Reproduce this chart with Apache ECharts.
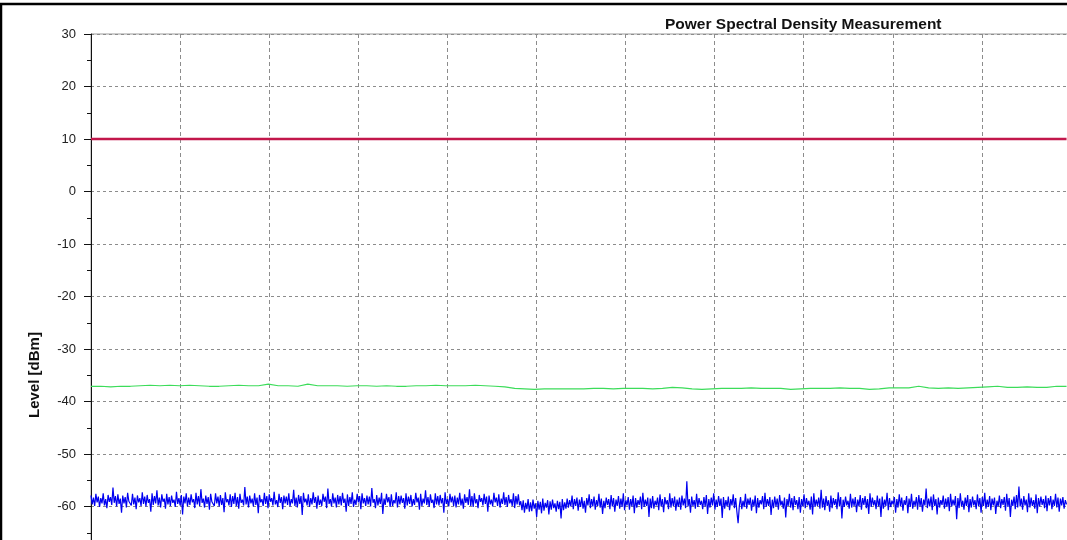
<!DOCTYPE html>
<html lang="en">
  <head>
    <meta charset="utf-8">
    <title>Power Spectral Density Measurement</title>
    <style>
      html, body { margin: 0; padding: 0; background: #fff; overflow: hidden; }
      /* the plot runs past the window on the right and bottom, like the original */
      #chart { width: 1071px; height: 559px; }
    </style>
  </head>
  <body>
    <div id="chart"></div>
    <script src="https://cdn.jsdelivr.net/npm/echarts@6/dist/echarts.min.js"></script>
    <script>
      // x span of the traces in grid units (one dashed division = 1)
      var X_SPAN = 10.95;
      var yTicks = [30, 20, 10, 0, -10, -20, -30, -40, -50, -60];

      // limit line
      var redLevel = [10, 10];

      // averaged trace
      var greenLevel = [
        -37.1, -37.1, -37.2, -37.1, -37.1, -37.0, -36.9, -37.0, -36.9, -37.0,
        -36.9, -37.0, -37.1, -37.1, -37.0, -36.9, -37.0, -37.0, -36.7, -37.0,
        -37.0, -37.1, -36.7, -37.0, -37.0, -37.0, -37.1, -37.0, -37.0, -37.1,
        -37.0, -37.1, -37.1, -37.0, -37.0, -36.9, -37.0, -37.0, -37.0, -36.9,
        -37.0, -37.1, -37.2, -37.5, -37.6, -37.7, -37.6, -37.6, -37.6, -37.6,
        -37.6, -37.5, -37.5, -37.6, -37.5, -37.5, -37.5, -37.6, -37.5, -37.3,
        -37.4, -37.6, -37.7, -37.6, -37.5, -37.5, -37.5, -37.4, -37.5, -37.5,
        -37.5, -37.7, -37.6, -37.5, -37.5, -37.5, -37.4, -37.5, -37.5, -37.7,
        -37.6, -37.4, -37.4, -37.4, -37.1, -37.4, -37.5, -37.4, -37.5, -37.4,
        -37.3, -37.2, -37.1, -37.3, -37.3, -37.2, -37.3, -37.3, -37.1, -37.1
      ];

      // raw trace (noise floor)
      var blueLevel = [
        -57.9,-59.6,-58.3,-59.9,-57.6,-59.2,-58.1,-60.1,-58.4,-59.4,-57.5,-59.8,-58.6,-60.3,-57.8,-59.1,-58.2,-59.7,-56.4,-59.3,
        -58.0,-60.0,-57.7,-59.5,-58.5,-61.2,-57.9,-59.4,-58.2,-60.2,-57.4,-59.0,-58.7,-59.8,-57.6,-59.6,-58.3,-60.5,-57.9,-59.2,
        -58.4,-59.9,-57.3,-59.5,-58.1,-60.0,-57.8,-59.3,-58.6,-61.0,-57.5,-59.7,-58.0,-59.4,-56.9,-59.8,-58.3,-60.2,-57.7,-59.1,
        -58.5,-60.4,-57.6,-59.6,-58.2,-59.9,-57.9,-59.3,-58.7,-60.1,-57.2,-59.5,-58.4,-59.8,-57.8,-61.5,-58.1,-59.4,-57.5,-60.0,
        -58.3,-59.7,-57.7,-59.2,-58.6,-60.3,-57.4,-59.6,-58.0,-59.9,-56.7,-59.3,-58.5,-60.2,-57.9,-59.5,-58.2,-60.6,-57.6,-59.1,
        -58.8,-59.9,-57.5,-59.4,-58.1,-60.0,-57.8,-59.7,-58.4,-61.1,-57.3,-59.2,-58.6,-59.8,-57.7,-60.1,-58.0,-59.5,-57.4,-59.9,
        -58.2,-60.4,-57.6,-59.3,-58.7,-59.8,-56.3,-59.6,-58.1,-60.2,-57.9,-59.4,-58.5,-60.0,-57.5,-59.7,-58.3,-61.3,-57.8,-59.2,
        -58.6,-59.9,-57.4,-59.5,-58.0,-60.3,-57.7,-59.1,-58.4,-59.8,-57.2,-59.6,-58.8,-60.1,-57.6,-59.3,-58.2,-60.5,-57.9,-59.4,
        -58.1,-59.7,-57.5,-60.0,-58.6,-59.4,-56.8,-59.9,-58.3,-60.2,-57.8,-59.5,-58.0,-61.6,-57.4,-59.2,-58.5,-59.8,-57.7,-60.1,
        -58.4,-59.6,-57.3,-59.3,-58.2,-60.4,-57.9,-59.7,-58.7,-59.9,-57.6,-59.1,-58.1,-60.3,-56.6,-59.5,-58.6,-60.0,-57.5,-59.4,
        -58.3,-60.2,-57.8,-59.6,-58.0,-59.8,-57.4,-59.3,-58.5,-61.0,-57.7,-59.9,-58.2,-59.5,-57.3,-60.1,-58.7,-59.7,-57.6,-59.2,
        -58.0,-60.5,-57.5,-59.4,-58.4,-59.9,-57.9,-59.6,-58.1,-60.0,-56.5,-59.3,-58.6,-60.3,-57.8,-59.8,-58.3,-59.5,-57.4,-61.4,
        -58.5,-59.7,-57.6,-59.2,-58.2,-60.1,-57.7,-59.9,-58.8,-59.4,-57.3,-60.2,-58.0,-59.6,-57.9,-59.3,-58.4,-60.4,-57.5,-59.8,
        -58.1,-59.5,-57.8,-60.0,-58.6,-59.7,-57.4,-59.2,-58.3,-60.6,-57.6,-59.9,-58.5,-59.4,-56.9,-59.7,-58.2,-60.1,-57.7,-59.3,
        -58.7,-60.3,-57.5,-59.6,-58.0,-59.8,-57.8,-59.4,-58.4,-61.2,-57.3,-59.5,-58.6,-60.0,-57.6,-59.2,-58.1,-59.9,-57.9,-60.2,
        -58.3,-59.6,-57.4,-59.8,-58.5,-60.4,-57.7,-59.3,-58.2,-59.7,-56.7,-59.9,-58.0,-60.1,-57.5,-59.4,-58.6,-60.3,-57.8,-59.1,
        -58.4,-59.8,-57.6,-59.5,-58.1,-61.0,-57.9,-59.6,-58.7,-60.0,-57.4,-59.2,-58.3,-59.9,-57.7,-60.2,-58.5,-59.5,-57.3,-59.7,
        -58.2,-60.1,-57.8,-59.4,-58.6,-59.9,-57.5,-60.3,-58.0,-59.6,-57.7,-59.8,-59.0,-60.7,-58.8,-61.2,-59.3,-60.5,-58.6,-61.0,
        -59.2,-60.9,-58.7,-60.4,-59.4,-62.0,-58.9,-60.6,-59.1,-61.3,-58.5,-60.8,-59.3,-60.2,-58.8,-61.5,-59.0,-60.6,-58.7,-60.3,
        -59.4,-61.0,-58.9,-60.5,-59.1,-62.3,-58.6,-60.7,-59.2,-60.4,-58.5,-60.2,-58.8,-60.0,-57.9,-60.5,-58.6,-59.9,-58.3,-60.8,
        -58.7,-60.1,-58.2,-60.4,-58.9,-61.2,-58.4,-59.8,-57.7,-60.3,-58.6,-60.0,-58.1,-60.6,-58.8,-59.9,-57.6,-60.2,-58.5,-61.4,
        -58.9,-60.3,-58.3,-59.7,-58.6,-60.5,-57.8,-60.0,-58.4,-61.0,-58.7,-59.9,-58.0,-60.4,-58.5,-60.1,-57.5,-60.7,-58.8,-59.8,
        -58.2,-60.6,-58.6,-60.0,-57.9,-61.3,-58.4,-60.2,-58.8,-59.7,-58.1,-60.5,-57.4,-60.1,-58.7,-59.9,-58.3,-62.0,-58.5,-60.3,
        -58.0,-60.4,-58.9,-59.8,-58.3,-60.7,-57.7,-60.0,-58.6,-61.1,-58.2,-59.6,-58.8,-60.5,-57.5,-60.2,-58.4,-59.9,-58.1,-60.8,
        -58.7,-60.1,-58.3,-60.6,-57.9,-59.8,-58.5,-60.3,-55.2,-60.0,-58.6,-61.2,-58.1,-59.9,-58.8,-60.4,-57.6,-60.1,-58.4,-59.7,
        -58.9,-60.5,-58.2,-60.0,-57.8,-61.4,-58.6,-60.2,-58.3,-59.8,-57.5,-60.6,-58.7,-60.1,-58.0,-59.9,-58.5,-62.2,-58.2,-60.4,
        -58.8,-60.0,-58.1,-60.7,-58.6,-59.8,-57.7,-60.3,-58.4,-61.0,-63.2,-59.9,-58.2,-60.5,-58.9,-60.1,-57.6,-60.4,-58.5,-59.7,
        -58.3,-60.8,-58.7,-60.0,-57.9,-61.3,-58.4,-60.2,-58.8,-59.6,-58.0,-60.5,-57.4,-60.1,-58.6,-59.9,-58.2,-61.6,-58.7,-60.3,
        -58.1,-60.0,-58.5,-60.6,-57.8,-59.8,-58.9,-60.4,-58.3,-62.1,-58.6,-59.9,-57.6,-60.2,-58.4,-60.7,-58.0,-59.7,-58.8,-60.5,
        -58.2,-61.2,-58.6,-60.0,-57.7,-60.3,-58.4,-59.8,-58.9,-60.6,-58.1,-61.5,-57.5,-60.1,-58.7,-59.9,-58.3,-60.4,-56.8,-60.2,
        -58.5,-60.7,-58.0,-59.9,-58.8,-61.0,-57.9,-60.3,-58.4,-59.7,-58.6,-60.5,-57.3,-60.0,-58.2,-62.3,-58.7,-60.1,-58.1,-59.8,
        -58.9,-60.4,-57.6,-60.2,-58.5,-59.9,-58.2,-61.1,-58.7,-60.0,-57.8,-60.6,-58.4,-59.7,-58.0,-60.3,-58.6,-61.4,-57.5,-60.1,
        -58.3,-59.8,-58.8,-60.5,-57.9,-60.0,-58.5,-62.0,-58.1,-60.4,-58.7,-59.9,-57.4,-60.7,-58.4,-60.1,-58.9,-59.6,-58.2,-61.2,
        -58.6,-60.2,-57.7,-60.0,-58.3,-60.8,-58.8,-59.7,-58.0,-61.3,-58.5,-60.1,-57.6,-60.4,-58.9,-59.9,-58.2,-60.6,-57.8,-60.0,
        -58.4,-61.0,-58.7,-59.8,-56.6,-60.3,-58.5,-60.0,-58.1,-60.7,-57.7,-59.9,-58.6,-61.5,-58.3,-60.2,-58.8,-59.7,-57.9,-60.4,
        -58.5,-60.1,-58.2,-60.9,-57.6,-60.0,-58.7,-59.8,-58.0,-62.4,-58.4,-60.3,-57.5,-60.0,-58.9,-60.6,-58.3,-59.9,-57.8,-61.1,
        -58.6,-60.2,-58.1,-59.8,-58.8,-60.5,-57.7,-60.0,-58.4,-61.2,-58.2,-59.9,-57.4,-60.4,-58.7,-60.1,-58.0,-60.7,-58.5,-59.8,
        -58.3,-61.4,-58.9,-60.0,-57.9,-60.3,-58.6,-59.7,-58.2,-60.8,-57.6,-60.1,-58.4,-62.0,-58.7,-59.9,-58.1,-60.5,-57.8,-60.2,
        -56.2,-60.0,-58.5,-60.6,-58.0,-59.8,-58.7,-61.1,-57.5,-60.2,-58.3,-59.9,-58.8,-60.4,-57.7,-61.3,-58.4,-60.0,-58.1,-59.7,
        -58.6,-60.3,-57.9,-60.9,-58.4,-59.8,-58.0,-60.5,-58.7,-59.9,-57.6,-60.2,-58.3,-61.0,-58.5,-59.8,-58.2,-60.4,-58.8,-59.6
      ];

      // spread samples evenly across the sweep
      function toPairs(values) {
        var n = values.length - 1;
        return values.map(function (v, i) { return [i * X_SPAN / n, v]; });
      }

      var myChart = echarts.init(document.getElementById('chart'));

      myChart.setOption({
        animation: false,
        backgroundColor: '#fff',
        title: {
          text: 'Power Spectral Density Measurement',
          left: 660,
          top: 12,
          textStyle: {
            fontFamily: 'Liberation Sans, Arial, sans-serif',
            fontWeight: 'bold',
            fontSize: 15.5,
            color: '#111'
          }
        },
        graphic: [
          {
            type: 'rect',
            shape: { x: 1, y: 4, width: 1200, height: 800 },
            style: { fill: 'none', stroke: '#000', lineWidth: 2.5 },
            silent: true
          },
          {
            type: 'text',
            x: 35,
            y: 375,
            rotation: Math.PI / 2,
            style: {
              text: 'Level [dBm]',
              fontFamily: 'Liberation Sans, Arial, sans-serif',
              fontWeight: 'bold',
              fontSize: 15,
              fill: '#111',
              align: 'center',
              verticalAlign: 'middle'
            }
          }
        ],
        grid: {
          left: 91,
          right: 0,
          top: 34,
          bottom: 0,
          show: true,
          borderColor: '#9a9a9a',
          borderWidth: 1
        },
        xAxis: {
          type: 'value',
          min: 0,
          max: 11,
          interval: 1,
          axisLine: { show: false },
          axisTick: { show: false },
          axisLabel: { show: false },
          splitLine: {
            show: true,
            lineStyle: { color: '#8c8c8c', type: [4, 3], width: 1 }
          }
        },
        yAxis: {
          type: 'value',
          min: -70,
          max: 30,
          interval: 10,
          offset: 3,
          axisLine: { show: true, lineStyle: { color: '#111', width: 1 } },
          axisTick: { show: true, length: 7, lineStyle: { color: '#111' } },
          minorTick: { show: true, splitNumber: 2, length: 4, lineStyle: { color: '#111' } },
          axisLabel: {
            margin: 12,
            fontFamily: 'Liberation Sans, Arial, sans-serif',
            fontSize: 13,
            color: '#222',
            formatter: function (v) { return yTicks.indexOf(v) >= 0 ? String(v) : ''; }
          },
          splitLine: {
            show: true,
            lineStyle: { color: '#8c8c8c', type: [3, 3], width: 1 }
          }
        },
        series: [
          {
            name: 'Limit',
            type: 'line',
            data: toPairs(redLevel),
            showSymbol: false,
            lineStyle: { color: '#c2174b', width: 2.6 },
            z: 3
          },
          {
            name: 'Average',
            type: 'line',
            data: toPairs(greenLevel),
            showSymbol: false,
            lineStyle: { color: '#3cdc5a', width: 1.2 },
            z: 3
          },
          {
            name: 'Trace',
            type: 'line',
            data: toPairs(blueLevel),
            showSymbol: false,
            lineStyle: { color: '#0000f0', width: 1.2 },
            z: 3
          }
        ]
      });
    </script>
  </body>
</html>
